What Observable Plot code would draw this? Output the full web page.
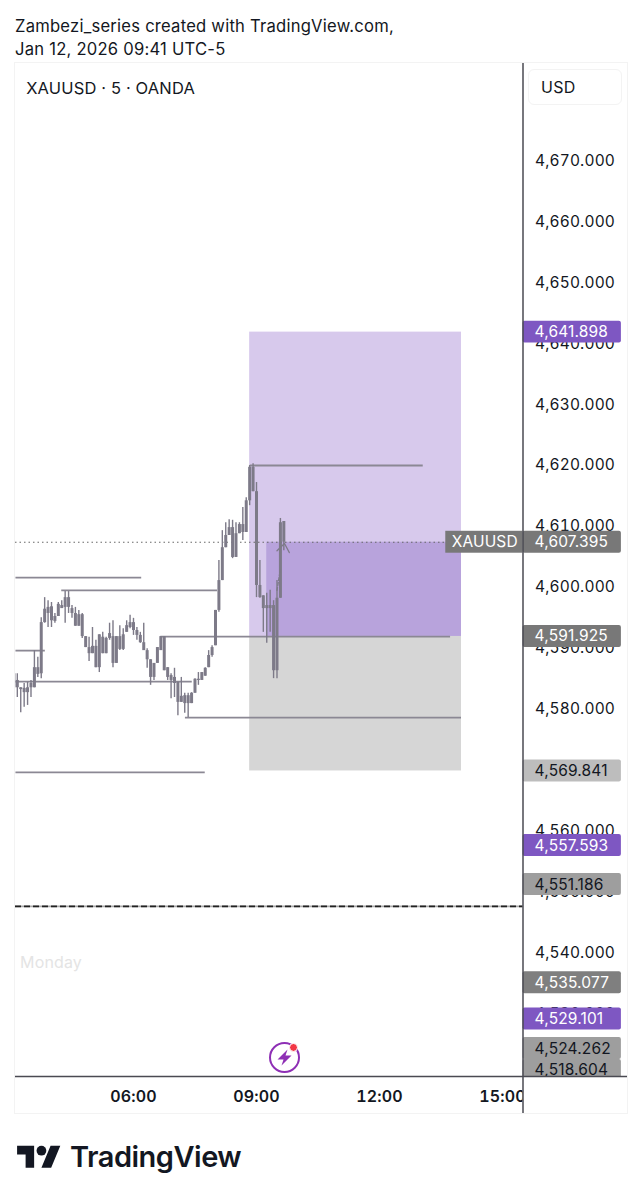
<!DOCTYPE html>
<html>
<head>
<meta charset="utf-8">
<script src="https://cdn.jsdelivr.net/npm/d3@7"></script>
<script src="https://cdn.jsdelivr.net/npm/@observablehq/plot@0.6"></script>
<style>
  html, body { margin: 0; padding: 0; background: #fff; }
  body { width: 642px; height: 1200px; position: relative; overflow: hidden; font-family: Inter, "Noto Sans", sans-serif; color: #131722; }
  .abs { position: absolute; }
  #head { left: 15px; top: 15px; font-size: 16.6px; line-height: 23px; letter-spacing: 0.23px; }
  #chart { left: 0; top: 62px; }
  #frame { left: 14px; top: 62px; width: 614px; height: 1052px; box-sizing: border-box; border: 1px solid #f3f3f3; pointer-events: none; }
  #usd { left: 528px; top: 69px; width: 94px; height: 36px; box-sizing: border-box; border: 1px solid #f3f3f3; border-radius: 6px; font-size: 16px; line-height: 35px; padding-left: 12px; letter-spacing: 0.3px; }
  #logo { left: 17px; top: 1141px; }
  #brand { left: 70px; top: 1139px; font-size: 29px; line-height: 36px; font-weight: 600; letter-spacing: -0.5px; color: #131722; }
</style>
</head>
<body>
<div id="head" class="abs">Zambezi_series created with TradingView.com,<br>Jan 12, 2026 09:41 UTC-5</div>
<div id="chart" class="abs"></div>
<div id="frame" class="abs"></div>
<div id="usd" class="abs">USD</div>
<svg id="logo" class="abs" width="44" height="28" viewBox="0 0 36 23"><path fill="#131722" d="M14 22H7V11H0V4h14v18zM28 22h-8l7.5-18h8L28 22z"/><circle fill="#131722" cx="20" cy="8" r="4"/></svg>
<div id="brand" class="abs">TradingView</div>
<script>
// 5-minute candles, first bar 03:05
const high = [4586.8,4585.8,4583.5,4584.2,4584.4,4584.7,4589.6,4588.5,4595.0,4598.3,4597.8,4597.5,4595.7,4597.5,4597.8,4599.3,4599.3,4597.0,4596.7,4596.2,4595.7,4591.9,4591.8,4593.4,4591.3,4592.2,4592.6,4591.8,4594.1,4594.5,4591.9,4593.7,4593.2,4594.5,4595.4,4594.9,4593.4,4592.6,4594.1,4589.9,4588.1,4587.5,4590.1,4591.9,4591.9,4586.8,4585.8,4586.7,4584.4,4585.2,4582.6,4582.6,4582.7,4585.0,4586.0,4586.0,4586.8,4589.6,4590.4,4596.2,4604.4,4609.3,4610.6,4611.1,4611.0,4610.6,4610.6,4613.1,4614.7,4620.0,4620.3,4617.2,4604.4,4598.6,4599.0,4599.5,4597.8,4601.1,4611.3,4610.8];
const low = [4583.5,4581.9,4579.4,4580.3,4580.6,4581.9,4583.5,4585.2,4585.0,4594.1,4593.4,4593.4,4594.1,4595.2,4596.5,4594.1,4595.7,4594.9,4593.6,4593.6,4591.6,4590.1,4587.8,4589.1,4586.8,4586.0,4589.1,4589.1,4591.3,4586.8,4587.5,4589.6,4589.6,4592.6,4593.2,4592.1,4591.3,4590.8,4589.6,4586.7,4583.9,4584.7,4587.5,4589.6,4586.3,4584.7,4581.7,4581.9,4578.9,4581.1,4579.3,4578.6,4580.9,4582.6,4583.9,4584.7,4585.4,4586.8,4588.5,4590.4,4595.9,4601.1,4606.5,4608.5,4604.7,4604.9,4608.8,4607.7,4609.0,4613.4,4615.7,4598.3,4598.2,4592.6,4590.8,4592.6,4585.0,4585.0,4598.2,4606.0];
const bodyTop = [4585.8,4584.7,4583.5,4583.4,4583.5,4584.2,4586.8,4586.8,4594.2,4596.4,4596.7,4596.8,4595.2,4597.2,4597.0,4598.3,4598.3,4596.5,4595.7,4595.5,4595.5,4591.9,4590.1,4590.3,4590.3,4592.2,4591.8,4591.6,4592.4,4591.9,4591.9,4591.9,4592.2,4593.7,4594.2,4594.2,4592.9,4592.1,4590.9,4589.6,4588.1,4587.5,4590.1,4591.9,4591.9,4586.8,4585.5,4585.2,4584.4,4582.1,4582.2,4582.2,4582.6,4584.9,4584.9,4586.0,4586.7,4588.8,4590.1,4596.2,4601.1,4606.5,4608.5,4609.8,4609.8,4608.8,4610.3,4610.3,4614.2,4619.7,4619.7,4615.7,4600.3,4598.6,4597.0,4597.0,4597.0,4598.2,4610.6,4610.8];
const bodyBottom = [4583.5,4583.5,4583.2,4582.7,4582.7,4583.5,4583.5,4585.7,4585.8,4594.2,4595.7,4594.5,4594.4,4595.2,4596.5,4596.7,4596.7,4595.7,4593.6,4593.6,4591.9,4590.1,4589.1,4589.1,4586.8,4586.8,4589.1,4589.1,4591.6,4587.5,4587.5,4589.8,4589.8,4592.6,4593.4,4592.9,4592.1,4590.9,4589.6,4588.1,4585.2,4585.2,4587.5,4589.6,4586.3,4585.2,4584.7,4584.2,4581.1,4581.1,4580.9,4580.9,4580.9,4582.6,4584.7,4584.7,4585.4,4586.8,4588.8,4590.4,4596.2,4601.1,4606.5,4608.5,4604.9,4604.9,4608.8,4609.0,4609.0,4614.2,4615.7,4600.3,4598.3,4596.5,4596.5,4596.5,4586.3,4586.3,4598.2,4607.4];

const clock = (h, m = 0) => new Date(Date.UTC(2026, 0, 12, h, m));
const firstBar = clock(3, 5);
const barTimes = high.map((_, i) => new Date(+firstBar + i * 300000));
const bars = high.map((h, i) => ({ t: barTimes[i], h, l: low[i], top: bodyTop[i], bot: bodyBottom[i] }));

// Horizontal rays: price, start, end
const rayPrice = [4601.6, 4599.5, 4589.6, 4584.5, 4591.9, 4578.6, 4569.6, 4620.0];
const rayStart = [clock(3,8), clock(4,15), clock(3,8), clock(3,8), clock(6,40), clock(7,16), clock(3,8), clock(8,51)];
const rayEnd = [clock(6,12), clock(8,3), clock(3,51), clock(7,26), clock(13,44), clock(14,0), clock(7,45), clock(13,4)];

// Position box
const boxLeft = clock(8, 50), boxRight = clock(14, 0), fillLeft = clock(9, 15);
const target = 4641.898, last = 4607.395, entry = 4591.925, stop = 4569.841, sessionLine = 4547.6;

// Axes
const priceTicks = [4670,4660,4650,4640,4630,4620,4610,4600,4590,4580,4570,4560,4550,4540,4530,4520];
const timeTicks = [clock(6), clock(9), clock(12), clock(15)];
const axisEnd = clock(15, 30), labelEnd = clock(17, 54), frameEnd = clock(18, 4), labelText0 = clock(15, 47), chartStart = new Date(Date.UTC(2026,0,12,3,7,20));
const priceTop = 4686.17, priceBottom = 4519.67, frameBottom = 4513.43;

// Price-scale labels (last one is pushed up by the stack, as in the picture)
const labelValue = [4641.898,4607.395,4591.925,4569.841,4557.593,4551.186,4535.077,4529.101,4524.262,4518.604];
const labelAt = [4641.898,4607.395,4591.925,4569.841,4557.593,4551.186,4535.077,4529.101,4524.262,4520.66];
const labelFill = ["#7e57c2","#787878","#787878","#bdbdbd","#7e57c2","#9e9e9e","#7f7f7f","#7e57c2","#9e9e9e","#9e9e9e"];
const labelInk = ["#fff","#fff","#fff","#131722","#fff","#131722","#fff","#fff","#131722","#131722"];
const labelHalf = 1.8;
const labels = labelValue.map((v, i) => ({ v, at: labelAt[i], fill: labelFill[i], ink: labelInk[i] }));

const fmt = d3.format(",.3f");
const candle = "#7d7a88";
const iconTime = clock(9, 41), iconPrice = 4522.8;
const bolt = { draw(c) { c.moveTo(3,-8); c.lineTo(-7,2); c.lineTo(-1,2); c.lineTo(-3,8); c.lineTo(7,-2); c.lineTo(1,-2); c.closePath(); } };

const plot = Plot.plot({
  width: 642, height: 1052,
  marginLeft: 15, marginRight: 119.5, marginTop: 0, marginBottom: 38,
  style: { fontFamily: "Inter, sans-serif", fontSize: "16px", background: "transparent", color: "#131722", letterSpacing: "0.15px" },
  x: { type: "utc", domain: [chartStart, axisEnd], label: null },
  y: { domain: [priceBottom, priceTop], label: null },
  marks: [
    Plot.rect([{}], { x1: boxLeft, x2: boxRight, y1: entry, y2: target, fill: "#d7c9ec" }),
    Plot.rect([{}], { x1: fillLeft, x2: boxRight, y1: entry, y2: last, fill: "#b8a3dc" }),
    Plot.rect([{}], { x1: boxLeft, x2: boxRight, y1: stop, y2: entry, fill: "#d6d6d6" }),
    Plot.ruleY([last], { x1: chartStart, x2: axisEnd, stroke: "#666", strokeWidth: 1, strokeDasharray: "1.5,3" }),
    Plot.ruleY([sessionLine], { x1: chartStart, x2: axisEnd, stroke: "#aaa", strokeWidth: 1.6 }),
    Plot.ruleY([sessionLine], { x1: chartStart, x2: axisEnd, stroke: "#222", strokeWidth: 1.6, strokeDasharray: "6,3" }),
    Plot.ruleY(rayPrice, { y: d => d, x1: (d, i) => rayStart[i], x2: (d, i) => rayEnd[i], stroke: "#8b8894", strokeWidth: 1.8 }),
    Plot.ruleX(bars, { x: "t", y1: "l", y2: "h", stroke: candle, strokeWidth: 1.4, clip: true }),
    Plot.ruleX(bars, { x: "t", y1: "bot", y2: "top", stroke: candle, strokeWidth: 3, clip: true }),
    Plot.line([{ t: clock(9,30), p: 4606.0 }, { t: clock(9,41), p: 4607.2 }, { t: clock(9,48), p: 4605.7 }], { x: "t", y: "p", stroke: candle, strokeWidth: 1.3 }),
    Plot.line([{ t: clock(9,30), p: 4599.5 }, { t: clock(9,35), p: 4603.0 }], { x: "t", y: "p", stroke: candle, strokeWidth: 1.3, strokeDasharray: "3,2" }),
    Plot.text(["XAUUSD · 5 · OANDA"], { x: clock(3, 23), y: 4681.83, text: d => d, textAnchor: "start", fontSize: 16.5, fill: "#131722" }),
    Plot.text(["Monday"], { x: clock(3, 14), y: 4538.33, text: d => d, textAnchor: "start", fontSize: 16, fill: "#e4e4e4" }),
    Plot.dot([{}], { x: iconTime, y: iconPrice, r: 14.5, stroke: "#8e2fb5", strokeWidth: 2, fill: "#fff" }),
    Plot.dot([{}], { x: iconTime, y: iconPrice, r: 8, symbol: bolt, fill: "#8e2fb5", stroke: "none" }),
    Plot.dot([{}], { x: iconTime, y: iconPrice, r: 4, dx: 9, dy: -10, fill: "#f23645", stroke: "#fff", strokeWidth: 1 }),
    Plot.axisY({ anchor: "right", ticks: priceTicks, tickSize: 0, tickPadding: 12, tickFormat: fmt, fontSize: 15.5, fill: "#131722", label: null }),
    Plot.rect(labels, { x1: axisEnd, x2: labelEnd, y1: d => d.at - labelHalf, y2: d => d.at + labelHalf, fill: "fill", r: 2 }),
    Plot.rect([{}], { x1: clock(13, 37), x2: axisEnd, y1: last - labelHalf, y2: last + labelHalf, fill: "#787878" }),
    Plot.text(["XAUUSD"], { x: clock(14, 34), y: last, text: d => d, fill: "#fff", fontSize: 15.5 }),
    Plot.text(labels, { x: labelText0, y: "at", text: d => fmt(d.v), fill: "ink", textAnchor: "start", fontSize: 15.5 }),
    Plot.axisX({ ticks: timeTicks, tickSize: 0, tickPadding: 14, tickFormat: d3.utcFormat("%H:%M"), fontSize: 16, fontWeight: 600, fill: "#131722", label: null }),
    Plot.rect([{}], { x1: axisEnd, x2: frameEnd, y1: frameBottom, y2: priceBottom, fill: "#fff" }),
    Plot.ruleY([priceBottom], { x1: chartStart, x2: frameEnd, stroke: "#4a4a52", strokeWidth: 1.5 }),
    Plot.ruleX([axisEnd], { y1: frameBottom, y2: priceTop, stroke: "#4a4a52", strokeWidth: 1.5 })
  ]
});
document.getElementById("chart").appendChild(plot);
</script>
</body>
</html>
